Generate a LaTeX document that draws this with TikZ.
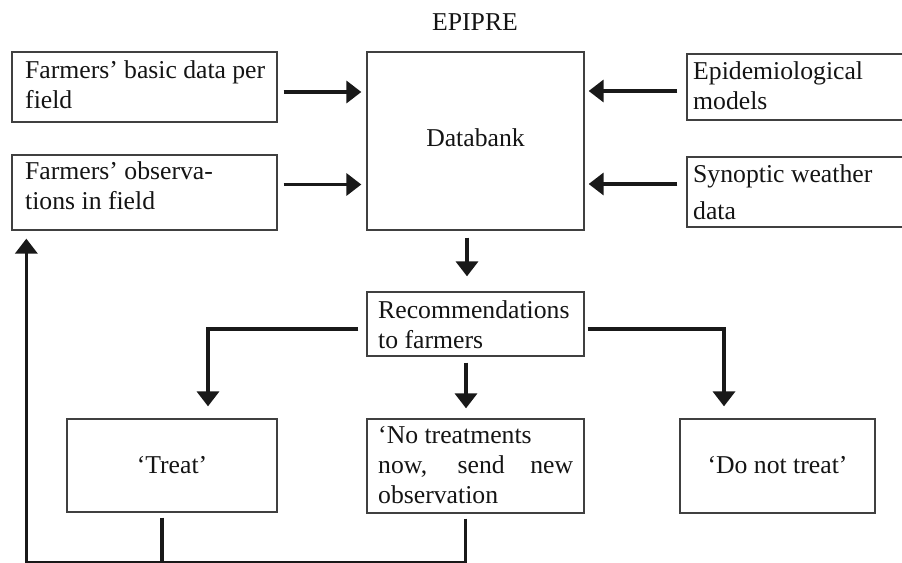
\documentclass[tikz,border=0pt]{standalone}
\usepackage{fontspec}
\setmainfont{Liberation Serif}
\usetikzlibrary{arrows.meta,calc}
\begin{document}
\begin{tikzpicture}[x=1bp,y=-1bp,
  every node/.style={font=\fontsize{25.7bp}{30bp}\selectfont, inner sep=0pt, text=black!92},
  box/.style={draw=black!75, line width=1.3bp, rectangle, inner sep=0pt},
  txt/.style={anchor=base west},
  ctxt/.style={anchor=base},
  link/.style={line width=3.6bp, draw=black!90},
  arr/.style={link, -{Triangle[length=15bp,width=22bp]}}
]
\useasboundingbox (0,0) rectangle (902,563);

% title
\node[ctxt] (title) at (475,31) {EPIPRE};

% boxes
\node[box, minimum width=265bp, minimum height=70bp] (b1) at (144.5,87) {};
\node[box, minimum width=265bp, minimum height=75bp] (b2) at (144.5,192.5) {};
\node[box, minimum width=217bp, minimum height=178bp] (db) at (475.5,141) {};
\node[box, minimum width=223bp, minimum height=66bp] (epi) at (798.5,87) {};
\node[box, minimum width=223bp, minimum height=70bp] (syn) at (798.5,192) {};
\node[box, minimum width=217bp, minimum height=64bp] (rec) at (475.5,324) {};
\node[box, minimum width=210bp, minimum height=93bp] (tr) at (172,465.5) {};
\node[box, minimum width=217bp, minimum height=94bp] (nt) at (475.5,466) {};
\node[box, minimum width=195bp, minimum height=94bp] (dnt) at (777.5,466) {};

% box texts
\node[txt] (b1t) at (25,79) {\parbox[t]{240bp}{\makebox[\linewidth][s]{Farmers’ basic data per}\\field}};
\node[txt] (b2t) at (25,180) {\parbox[t]{240bp}{Farmers’ observa-\\tions in field}};
\node[ctxt] (dbt) at (475.5,147) {Databank};
\node[txt] (epit) at (693,80) {\parbox[t]{200bp}{Epidemiological\\models}};
\node[txt] (synt) at (693,183) {\parbox[t]{200bp}{Synoptic weather\\[7bp]data}};
\node[txt] (rect) at (378,318) {\parbox[t]{195bp}{Recommendations\\to farmers}};
\node[txt] (ntt) at (378,443) {\parbox[t]{195bp}{‘No treatments\\\makebox[\linewidth][s]{now, send new}\\observation}};
\node[ctxt] (trt) at (172,473) {‘Treat’};
\node[ctxt] (dntt) at (777.5,473) {‘Do not treat’};

% inputs to the databank
\draw[arr] ($(b1.east)+(6,5)$) -- ($(b1.east -| db.west)+(-5,5)$);
\draw[arr] ($(b2.east)+(6,-8)$) -- ($(b2.east -| db.west)+(-5,-8)$);
\draw[arr] ($(epi.west)+(-9,4)$) -- ($(epi.west -| db.east)+(4,4)$);
\draw[arr] ($(syn.west)+(-9,-8)$) -- ($(syn.west -| db.east)+(4,-8)$);

% databank to recommendations
\draw[arr] ($(db.south)+(-8.5,7)$) -- ($(rec.north)+(-8.5,-15)$);

% recommendations to the three outcomes
\draw[arr] ($(rec.south)+(-9.5,6)$) -- ($(nt.north)+(-9.5,-10)$);
\draw[arr] ($(rec.west)+(-8,5)$) -| ($(tr.north)+(36,-12)$);
\draw[arr] ($(rec.east)+(3,5)$) -| ($(dnt.north)+(-53.5,-12)$);

% feedback loop to the field observations
\draw[arr] ($(nt.south)+(-10,5)$) -- ($(nt.south)+(-10,49)$) -| ($(b2.south west)+(15,8)$);
\draw[link] ($(tr.south)+(-10,5)$) -- ($(tr.south)+(-10,50)$);
\end{tikzpicture}
\end{document}
